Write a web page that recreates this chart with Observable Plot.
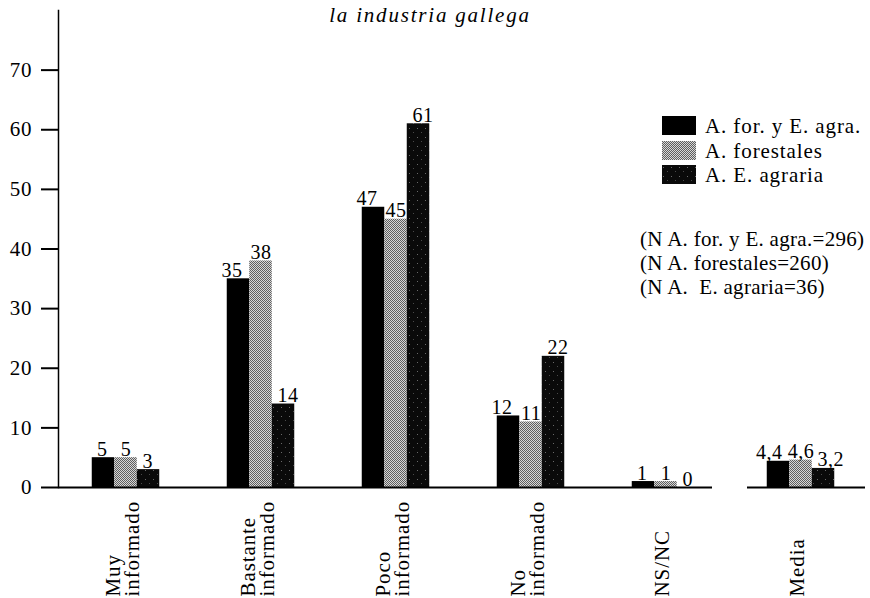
<!DOCTYPE html>
<html><head><meta charset="utf-8">
<script src="https://cdn.jsdelivr.net/npm/d3@7"></script>
<script src="https://cdn.jsdelivr.net/npm/@observablehq/plot@0.6"></script>
<style>
body{margin:0;background:#fff;}
#wrap{position:relative;width:870px;height:598px;overflow:hidden;font-family:"Liberation Serif",serif;}
#wrap svg.plot{position:absolute;left:0;top:0;}
#wrap svg.plot g[aria-label="text"] text{letter-spacing:0.5px;}
.t{position:absolute;white-space:pre;font-size:21px;line-height:24px;letter-spacing:0.9px;color:#000;}
.sw{position:absolute;}
</style></head><body>
<svg width="0" height="0" style="position:absolute">
<defs>
<pattern id="p2" width="2" height="2" patternUnits="userSpaceOnUse">
 <rect width="2" height="2" fill="#d6d6d6"/><rect width="1" height="1" fill="#5e5e5e"/><rect x="1" y="1" width="1" height="1" fill="#5e5e5e"/>
</pattern>
<pattern id="p3" width="8" height="9" patternUnits="userSpaceOnUse">
 <rect width="8" height="9" fill="#0a0a0a"/><rect x="1" y="2" width="1" height="1" fill="#6a6a6a"/><rect x="5" y="6" width="1" height="1" fill="#4a4a4a"/>
</pattern>
</defs></svg>
<div id="wrap"></div>
<script>
const title = "la industria gallega";
const categories = ["Muy\ninformado", "Bastante\ninformado", "Poco\ninformado", "No\ninformado", "NS/NC", "Media"];
const seriesNames = ["A. for. y E. agra.", "A. forestales", "A. E. agraria"];
const serieForYAgra = [5, 35, 47, 12, 1, 4.4];
const serieForestales = [5, 38, 45, 11, 1, 4.6];
const serieEAgraria = [3, 14, 61, 22, 0, 3.2];
const sampleNotes = ["(N A. for. y E. agra.=296)", "(N A. forestales=260)", "(N A.  E. agraria=36)"];
const yTicks = [0, 10, 20, 30, 40, 50, 60, 70];

const series = [serieForYAgra, serieForestales, serieEAgraria];
const fills = ["#000", "url(#p2)", "url(#p3)"];
const W = 870, H = 598, mL = 58, mR = 2, mT = 10, mB = 111;
const step = (W - mL - mR) / categories.length;
const group = step * 0.5;
const bw = group / 3;
const fmt = v => String(v).replace(".", ",");
const anchors = ["end", "middle", "start"];
const labelDx = [-bw + 4, 0, bw - 6];

const marks = [];
series.forEach((vals, s) => {
  const data = categories.map((c, i) => ({c, v: vals[i]}));
  const left = (step - group) / 2 + bw * s;
  marks.push(Plot.barY(data, {x: "c", y: "v", fill: fills[s], insetLeft: left, insetRight: step - left - bw}));
  marks.push(Plot.text(data, {x: "c", y: "v", text: d => fmt(d.v), dx: labelDx[s], dy: -2, textAnchor: anchors[s], lineAnchor: "bottom", fontSize: 20}));
});
marks.push(Plot.ruleY([0], {y: d => d, x1: () => categories[0], x2: () => categories[4], insetRight: 21, strokeWidth: 2}));
marks.push(Plot.ruleY([0], {y: d => d, x1: () => categories[5], x2: () => categories[5], insetLeft: 14, insetRight: 3, strokeWidth: 2}));
marks.push(Plot.frame({anchor: "left", strokeWidth: 1.5}));
marks.push(Plot.axisY({ticks: yTicks, tickSize: 17, tickPadding: 9, fontSize: 21, strokeWidth: 2, label: null, tickFormat: d => String(d)}));
marks.push(Plot.axisX({tickSize: 0, tickPadding: 109, tickRotate: -90, textAnchor: "start", lineHeight: 0.9, dx: -3, fontSize: 21, label: null}));

const chart = Plot.plot({
  width: W, height: H,
  marginLeft: mL, marginRight: mR, marginTop: mT, marginBottom: mB,
  x: {domain: categories, padding: 0},
  y: {domain: [0, 80]},
  style: {fontFamily: "'Liberation Serif', serif", fontSize: "21px", color: "#000", background: "#fff", letterSpacing: "0.9px"},
  marks
});
chart.classList.add("plot");
const wrap = document.getElementById("wrap");
wrap.appendChild(chart);

function addText(txt, left, top, extra) {
  const d = document.createElement("div");
  d.className = "t";
  d.textContent = txt;
  d.style.left = left + "px";
  d.style.top = top + "px";
  if (extra) Object.assign(d.style, extra);
  wrap.appendChild(d);
  return d;
}
addText(title, 0, 3, {fontStyle: "italic", letterSpacing: "1.8px", width: "860px", textAlign: "center"});

seriesNames.forEach((n, s) => {
  const sw = document.createElementNS("http://www.w3.org/2000/svg", "svg");
  sw.setAttribute("width", 34); sw.setAttribute("height", 19);
  sw.setAttribute("class", "sw");
  sw.style.left = "662px"; sw.style.top = (116 + s * 24.5) + "px";
  const r = document.createElementNS("http://www.w3.org/2000/svg", "rect");
  r.setAttribute("width", 34); r.setAttribute("height", 19); r.setAttribute("fill", fills[s]);
  sw.appendChild(r);
  wrap.appendChild(sw);
  addText(n, 705, 114 + s * 24.5);
});
sampleNotes.forEach((n, i) => addText(n, 640, 227 + i * 24, {letterSpacing: "0.3px"}));
</script>
</body></html>
